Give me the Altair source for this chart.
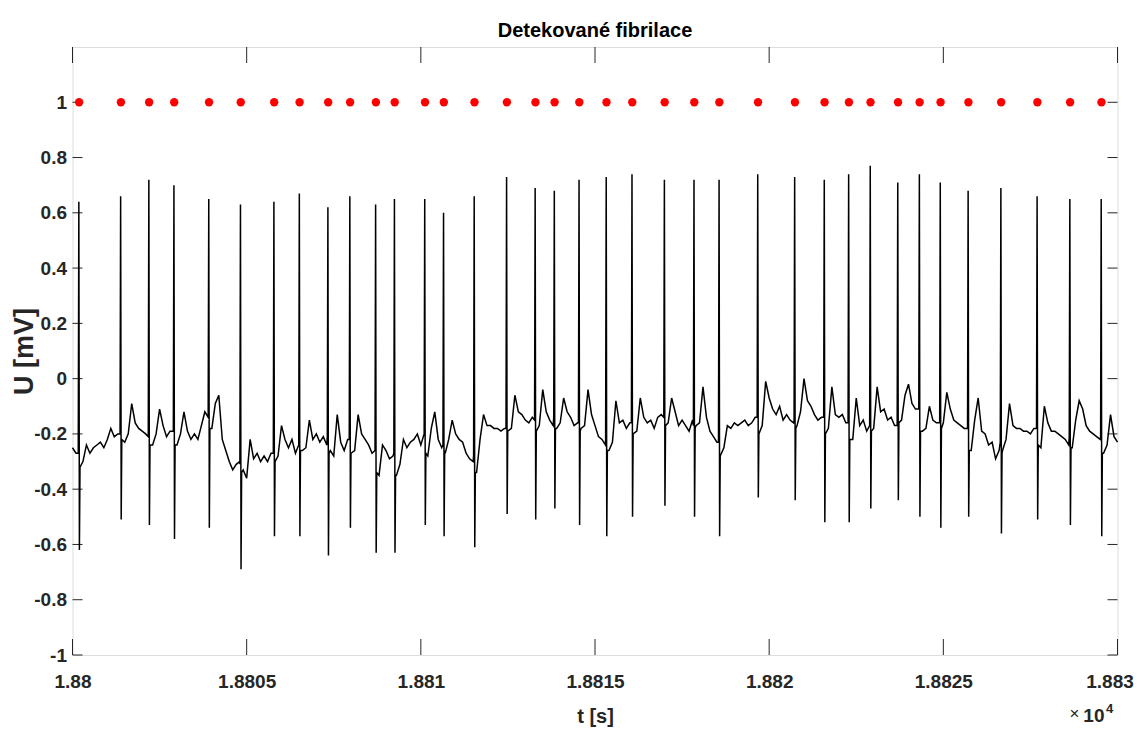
import altair as alt
import pandas as pd

# ---- data ----
# detected beats (red markers at U = 1) and QRS spike extremes
beat_t = [18800.19, 18801.39, 18802.20, 18802.92, 18803.92, 18804.83, 18805.79, 18806.52,
          18807.34, 18807.97, 18808.71, 18809.25, 18810.12, 18810.66, 18811.54, 18812.47,
          18813.29, 18813.84, 18814.55, 18815.33, 18816.07, 18817.00, 18817.85, 18818.57,
          18819.68, 18820.74, 18821.59, 18822.29, 18822.91, 18823.70, 18824.32, 18824.92,
          18825.72, 18826.66, 18827.70, 18828.64, 18829.54]
beat_flag = [1] * 37
spike_top = [0.64, 0.66, 0.72, 0.70, 0.65, 0.63, 0.64, 0.67, 0.62, 0.66, 0.63, 0.65, 0.65,
             0.60, 0.66, 0.73, 0.69, 0.68, 0.72, 0.73, 0.74, 0.72, 0.72, 0.72, 0.74, 0.73,
             0.72, 0.74, 0.77, 0.71, 0.74, 0.71, 0.68, 0.69, 0.66, 0.65, 0.65]
spike_bottom = [-0.62, -0.51, -0.53, -0.58, -0.54, -0.69, -0.57, -0.57, -0.64, -0.54, -0.63,
                -0.63, -0.53, -0.57, -0.61, -0.49, -0.51, -0.47, -0.53, -0.57, -0.50, -0.46,
                -0.50, -0.57, -0.43, -0.44, -0.52, -0.52, -0.47, -0.44, -0.50, -0.54, -0.50,
                -0.56, -0.51, -0.53, -0.57]
# baseline level just before and just after each QRS spike
spike_pre = [-0.27, -0.20, -0.21, -0.19, -0.14, -0.31, -0.27, -0.24, -0.21, -0.22, -0.26,
             -0.27, -0.20, -0.24, -0.28, -0.18, -0.15, -0.14, -0.16, -0.22, -0.16, -0.14,
             -0.17, -0.23, -0.14, -0.15, -0.14, -0.16, -0.17, -0.17, -0.11, -0.16, -0.18,
             -0.23, -0.18, -0.21, -0.21]
spike_post = [-0.32, -0.22, -0.24, -0.24, -0.18, -0.34, -0.30, -0.26, -0.27, -0.27, -0.34,
              -0.35, -0.27, -0.26, -0.34, -0.19, -0.19, -0.18, -0.19, -0.26, -0.20, -0.17,
              -0.18, -0.28, -0.20, -0.18, -0.20, -0.22, -0.19, -0.16, -0.19, -0.18, -0.26,
              -0.27, -0.24, -0.25, -0.27]

# ECG baseline, sampled every 0.1 s from t = 18800 s
base_start = 18800.0
base_step = 0.1
base_u = [
    -0.25, -0.27, -0.30, -0.30, -0.24, -0.27, -0.25, -0.24, -0.23, -0.25,
    -0.22, -0.18, -0.21, -0.20, -0.21, -0.23, -0.20, -0.09, -0.16, -0.18,
    -0.19, -0.20, -0.22, -0.24, -0.20, -0.11, -0.17, -0.21, -0.19, -0.23,
    -0.24, -0.20, -0.12, -0.19, -0.22, -0.20, -0.22, -0.17, -0.12, -0.19,
    -0.18, -0.09, -0.06, -0.22, -0.26, -0.30, -0.33, -0.31, -0.30, -0.33,
    -0.36, -0.22, -0.29, -0.27, -0.30, -0.28, -0.30, -0.27, -0.30, -0.28,
    -0.17, -0.22, -0.25, -0.22, -0.27, -0.27, -0.26, -0.25, -0.15, -0.22,
    -0.20, -0.23, -0.21, -0.24, -0.26, -0.28, -0.13, -0.23, -0.26, -0.22,
    -0.27, -0.26, -0.13, -0.20, -0.22, -0.24, -0.27, -0.28, -0.35, -0.24,
    -0.26, -0.29, -0.28, -0.35, -0.31, -0.22, -0.25, -0.23, -0.22, -0.20,
    -0.24, -0.25, -0.28, -0.18, -0.12, -0.22, -0.25, -0.27, -0.22, -0.15,
    -0.20, -0.22, -0.23, -0.27, -0.29, -0.30, -0.34, -0.22, -0.13, -0.17,
    -0.17, -0.18, -0.18, -0.19, -0.18, -0.20, -0.18, -0.06, -0.12, -0.13,
    -0.15, -0.16, -0.14, -0.18, -0.17, -0.04, -0.12, -0.15, -0.17, -0.18,
    -0.16, -0.07, -0.12, -0.14, -0.17, -0.16, -0.18, -0.17, -0.04, -0.13,
    -0.17, -0.21, -0.22, -0.24, -0.26, -0.23, -0.08, -0.16, -0.15, -0.18,
    -0.16, -0.20, -0.19, -0.07, -0.14, -0.16, -0.15, -0.18, -0.14, -0.13,
    -0.15, -0.16, -0.07, -0.12, -0.17, -0.15, -0.17, -0.19, -0.15, -0.17,
    -0.16, -0.03, -0.14, -0.19, -0.21, -0.23, -0.28, -0.25, -0.17, -0.18,
    -0.16, -0.17, -0.16, -0.15, -0.17, -0.16, -0.14, -0.20, -0.17, -0.01,
    -0.07, -0.11, -0.13, -0.10, -0.15, -0.13, -0.15, -0.16, -0.17, -0.12,
    0.00, -0.08, -0.10, -0.13, -0.15, -0.14, -0.19, -0.18, -0.03, -0.13,
    -0.14, -0.13, -0.16, -0.17, -0.22, -0.07, -0.17, -0.15, -0.19, -0.17,
    -0.18, -0.03, -0.12, -0.11, -0.15, -0.14, -0.17, -0.16, -0.15, -0.06,
    -0.02, -0.09, -0.11, -0.13, -0.19, -0.18, -0.10, -0.15, -0.16, -0.17,
    -0.16, -0.05, -0.11, -0.15, -0.16, -0.17, -0.18, -0.20, -0.26, -0.15,
    -0.07, -0.19, -0.20, -0.24, -0.23, -0.29, -0.26, -0.26, -0.22, -0.09,
    -0.17, -0.18, -0.18, -0.19, -0.19, -0.20, -0.18, -0.22, -0.25, -0.10,
    -0.16, -0.19, -0.19, -0.20, -0.21, -0.22, -0.24, -0.25, -0.15, -0.08,
    -0.11, -0.17, -0.19, -0.20, -0.21, -0.22, -0.27, -0.24, -0.13, -0.21,
    -0.23,
]

x_ticks = [18800, 18805, 18810, 18815, 18820, 18825, 18830]
y_ticks = [-1, -0.8, -0.6, -0.4, -0.2, 0, 0.2, 0.4, 0.6, 0.8, 1]

# ---- tables ----
rows = []
for i, u in enumerate(base_u):
    t = round(base_start + base_step * i, 3)
    if all(abs(t - b) > 0.03 for b in beat_t):
        rows.append((t, u))
for t, pre, top, bot, post in zip(beat_t, spike_pre, spike_top, spike_bottom, spike_post):
    rows.append((round(t - 0.025, 3), pre))
    rows.append((round(t - 0.008, 3), top))
    rows.append((round(t + 0.008, 3), bot))
    rows.append((round(t + 0.025, 3), post))
sig = pd.DataFrame(rows, columns=["t", "u"]).sort_values("t")
sig = sig[(sig.t >= 18800) & (sig.t <= 18830)]
beats = pd.DataFrame({"t": beat_t, "u": beat_flag})
xt = pd.DataFrame({"v": x_ticks})
yt = pd.DataFrame({"v": y_ticks})
one = pd.DataFrame({"k": [0]})

W, H = 1045, 608
FONT = "Liberation Sans, Arial, Helvetica"
AX = "#262626"

xscale = alt.Scale(domain=[18800, 18830], nice=False, zero=False)
yscale = alt.Scale(domain=[-1, 1.2], nice=False, zero=False)

xaxis = alt.Axis(values=x_ticks, labelExpr="format(datum.value / 10000, '~g')",
                 ticks=False, domain=False, grid=False, labelFlush=False, labelOverlap=False,
                 labelFont=FONT, labelFontSize=19, labelFontWeight="bold", labelColor=AX,
                 labelPadding=17,
                 labelOffset={"condition": {"test": "datum.value == 18830", "value": -8},
                              "value": 0},
                 title="t [s]", titleFont=FONT, titleFontSize=20,
                 titleFontWeight="bold", titleColor=AX, titleX=W / 2, titleY=67,
                 titleBaseline="alphabetic", titleAlign="center")
yaxis = alt.Axis(values=y_ticks,
                 labelExpr="datum.value < 0 ? '-' + format(-datum.value, '~g') : format(datum.value, '~g')",
                 ticks=False, domain=False, grid=False, labelFlush=False, labelOverlap=False,
                 labelFont=FONT, labelFontSize=19, labelFontWeight="bold", labelColor=AX,
                 labelPadding=6, title="U [mV]", titleFont=FONT, titleFontSize=27,
                 titleFontWeight="bold", titleColor=AX, titleX=-40, titleY=H / 2,
                 titleAngle=-90, titleBaseline="alphabetic", titleAlign="center")

line = alt.Chart(sig).mark_line(color="black", strokeWidth=1.5).encode(
    x=alt.X("t:Q", scale=xscale, axis=xaxis),
    y=alt.Y("u:Q", scale=yscale, axis=yaxis),
    order="t:Q",
)
dots = alt.Chart(beats).mark_point(filled=True, color="#ff0000", size=70, opacity=1).encode(
    x=alt.X("t:Q", scale=xscale), y=alt.Y("u:Q", scale=yscale)
)
tick_b = alt.Chart(xt).mark_rule(color=AX, strokeWidth=1).encode(
    x=alt.X("v:Q", scale=xscale), y=alt.value(H), y2=alt.value(H - 16))
tick_t = alt.Chart(xt).mark_rule(color=AX, strokeWidth=1).encode(
    x=alt.X("v:Q", scale=xscale), y=alt.value(0), y2=alt.value(16))
tick_l = alt.Chart(yt).mark_rule(color=AX, strokeWidth=1).encode(
    y=alt.Y("v:Q", scale=yscale), x=alt.value(0), x2=alt.value(10))
tick_r = alt.Chart(yt).mark_rule(color=AX, strokeWidth=1).encode(
    y=alt.Y("v:Q", scale=yscale), x=alt.value(W), x2=alt.value(W - 10))

title = alt.Chart(one).mark_text(text="Detekované fibrilace", font=FONT, fontSize=20,
                                 fontWeight="bold", align="center", baseline="alphabetic",
                                 color="black").encode(x=alt.value(W / 2), y=alt.value(-10))
times = alt.Chart(one).mark_text(text="×", font=FONT, fontSize=17, align="center",
                                 baseline="alphabetic", color=AX).encode(
    x=alt.value(1002), y=alt.value(672))
ten = alt.Chart(one).mark_text(text="10", font=FONT, fontSize=19, fontWeight="bold",
                               align="right", baseline="alphabetic", color=AX).encode(
    x=alt.value(1032), y=alt.value(675))
four = alt.Chart(one).mark_text(text="4", font=FONT, fontSize=13, fontWeight="bold",
                                align="left", baseline="alphabetic", color=AX).encode(
    x=alt.value(1033.5), y=alt.value(666))

chart = alt.layer(tick_b, tick_t, tick_l, tick_r, line, dots, title, times, ten, four).properties(
    width=W, height=H,
    autosize=alt.AutoSizeParams(type="none"),
    padding={"left": 64.5, "top": 39, "right": 16.5, "bottom": 72},
).configure_view(stroke=AX, strokeWidth=1).configure(background="white")

chart.save("out.html", embed_options={"renderer": "svg", "actions": False})
